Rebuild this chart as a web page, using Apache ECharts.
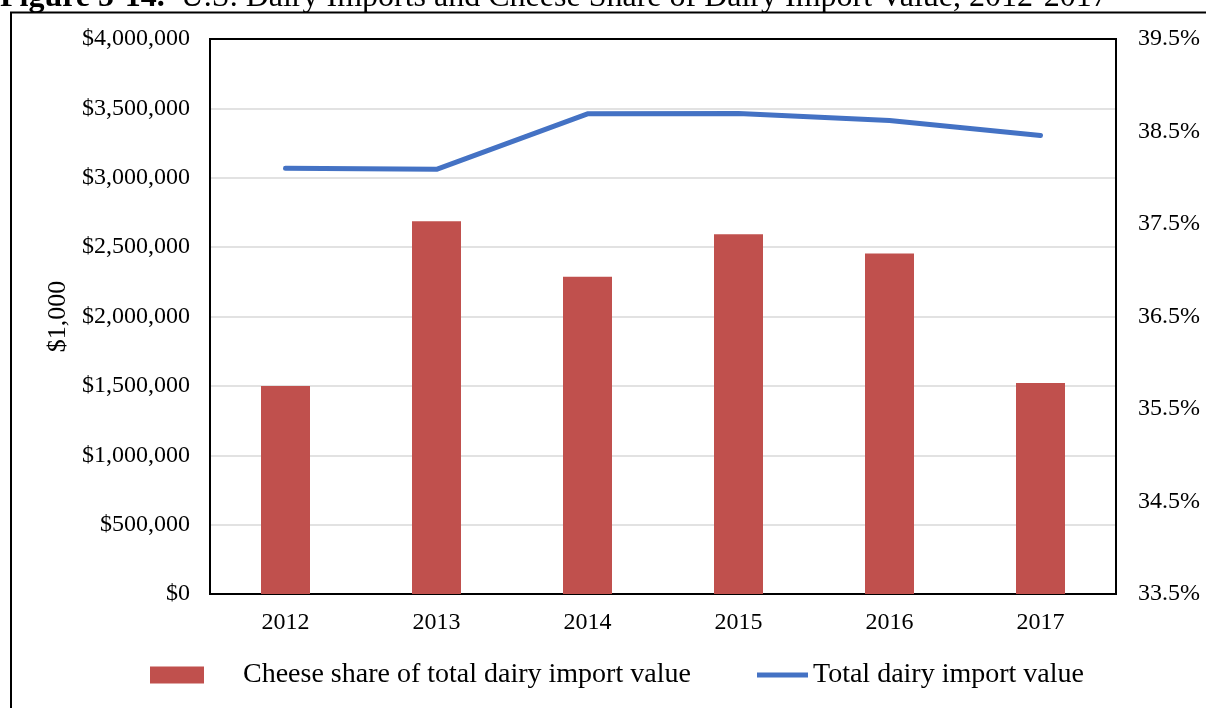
<!DOCTYPE html>
<html>
<head>
<meta charset="utf-8">
<script src="https://cdn.jsdelivr.net/npm/echarts@6/dist/echarts.min.js"></script>
<style>
  html, body { margin: 0; padding: 0; background: #fff; }
  #chart { width: 1206px; height: 708px; }
</style>
</head>
<body>
<div id="chart"></div>
<script>
// 数据
const years = ['2012', '2013', '2014', '2015', '2016', '2017'];
const cheeseShare = [35.75, 37.53, 36.93, 37.39, 37.18, 35.78]; // %
const totalImports = [3069000, 3061000, 3461000, 3463000, 3413000, 3304000]; // $1,000

const barName = 'Cheese share of total dairy import value';
const lineName = 'Total dairy import value';
const serif = '"Liberation Serif", "Times New Roman", serif';

const chart = echarts.init(document.getElementById('chart'));

const option = {
  backgroundColor: '#fff',
  animation: false,
  textStyle: { fontFamily: serif, color: '#000' },
  grid: {
    left: 210, right: 90, top: 39, bottom: 114,
    show: true, borderColor: '#000', borderWidth: 2
  },
  graphic: [
    {
      type: 'rect', z: -1,
      shape: { x: 11, y: 12.5, width: 1400, height: 900 },
      style: { fill: 'none', stroke: '#000', lineWidth: 2 }
    },
    {
      type: 'text', left: 0, top: -18,
      style: {
        text: '{b|Figure 5-14.}  U.S. Dairy Imports and Cheese Share of Dairy Import Value, 2012-2017',
        font: '32px ' + serif,
        fill: '#000',
        rich: { b: { fontWeight: 'bold', fontSize: 32, fontFamily: serif } }
      }
    }
  ],
  legend: [
    {
      data: [{ name: barName, icon: 'rect' }],
      left: 145, top: 656,
      itemWidth: 54, itemHeight: 17,
      textStyle: { fontSize: 28, fontFamily: serif, color: '#000', padding: [0, 0, 0, 34] }
    },
    {
      data: [{ name: lineName, icon: 'rect', itemStyle: { color: '#4472C4' } }],
      left: 752, top: 656,
      itemWidth: 51, itemHeight: 5,
      textStyle: { fontSize: 28, fontFamily: serif, color: '#000', padding: [0, 0, 0, 0] }
    }
  ],
  xAxis: {
    type: 'category',
    data: years,
    axisLine: { lineStyle: { color: '#000', width: 2 } },
    axisTick: { show: false },
    axisLabel: { fontSize: 24, fontFamily: serif, color: '#000', margin: 17 }
  },
  yAxis: [
    {
      type: 'value',
      min: 0, max: 4000000, interval: 500000,
      name: '$1,000',
      nameLocation: 'middle',
      nameGap: 131,
      nameTextStyle: { fontSize: 26, fontFamily: serif, color: '#000' },
      axisLine: { show: true, lineStyle: { color: '#000', width: 2 } },
      axisTick: { show: false },
      splitLine: { showMaxLine: false, showMinLine: false, lineStyle: { color: '#D9D9D9', width: 1.5 } },
      axisLabel: {
        fontSize: 24, fontFamily: serif, color: '#000', margin: 20,
        formatter: v => '$' + v.toLocaleString('en-US')
      }
    },
    {
      type: 'value',
      min: 33.5, max: 39.5, interval: 1,
      position: 'right',
      axisLine: { show: true, lineStyle: { color: '#000', width: 2 } },
      axisTick: { show: false },
      splitLine: { show: false },
      axisLabel: {
        fontSize: 24, fontFamily: serif, color: '#000', margin: 22,
        formatter: v => v.toFixed(1) + '%'
      }
    }
  ],
  series: [
    {
      name: barName,
      type: 'bar',
      yAxisIndex: 1,
      barWidth: 49,
      itemStyle: { color: '#C0504D' },
      data: cheeseShare
    },
    {
      name: lineName,
      type: 'line',
      yAxisIndex: 0,
      symbol: 'none',
      lineStyle: { color: '#4472C4', width: 5, cap: 'round', join: 'round' },
      itemStyle: { color: '#4472C4' },
      data: totalImports
    }
  ]
};

chart.setOption(option);
</script>
</body>
</html>
